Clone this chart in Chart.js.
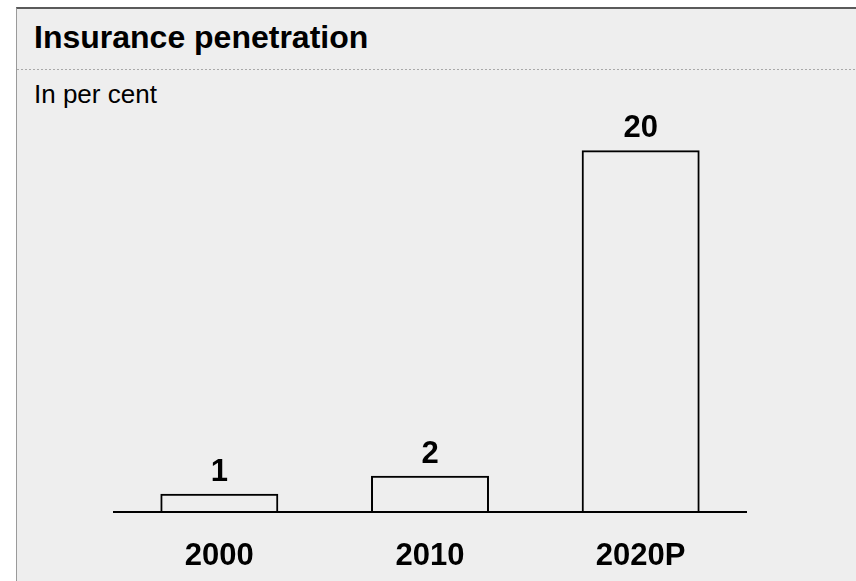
<!DOCTYPE html>
<html>
<head>
<meta charset="utf-8">
<script src="https://cdn.jsdelivr.net/npm/chart.js@4/dist/chart.umd.min.js"></script>
<style>
  html, body { margin: 0; padding: 0; background: #ffffff; }
  body { width: 856px; height: 581px; position: relative; overflow: hidden;
         font-family: "Liberation Sans", Arial, Helvetica, sans-serif; }
  .panel { position: absolute; left: 16px; top: 7px; right: -2px; bottom: -2px;
           background: #eeeeee; border-left: 1px solid #9a9a9a; border-top: 2px solid #5a5a5a; }
  .title { position: absolute; left: 17px; top: 12px; font-size: 32px; line-height: 32px;
           font-weight: bold; color: #000; white-space: nowrap; }
  .rule { position: absolute; left: 0; right: 0; top: 60px; height: 1px;
          background: repeating-linear-gradient(to right, #a8a8a8 0 2px, transparent 2px 4px); }
  .subtitle { position: absolute; left: 17px; top: 72px; font-size: 26px; line-height: 26px;
              color: #000; white-space: nowrap; }
  #chart { position: absolute; left: 0; top: 0; z-index: 2; }
</style>
</head>
<body>
<div class="panel">
  <div class="title">Insurance penetration</div>
  <div class="rule"></div>
  <div class="subtitle">In per cent</div>
</div>
<canvas id="chart" width="856" height="601"></canvas>
<script>
// Insurance penetration, in per cent
const categories = ['2000', '2010', '2020P'];
const penetration = [1, 2, 20];

const FONT = '"Liberation Sans", Arial, Helvetica, sans-serif';

// Writes each bar's value just above its top edge
const valueLabels = {
  id: 'valueLabels',
  afterDatasetsDraw(chart) {
    const ctx = chart.ctx;
    const meta = chart.getDatasetMeta(0);
    ctx.save();
    ctx.font = 'bold 31px ' + FONT;
    ctx.fillStyle = '#000000';
    ctx.textAlign = 'center';
    ctx.textBaseline = 'alphabetic';
    meta.data.forEach((bar, i) => {
      ctx.fillText(String(chart.data.datasets[0].data[i]), bar.x, bar.y - 13);
    });
    ctx.restore();
  }
};

new Chart(document.getElementById('chart'), {
  type: 'bar',
  data: {
    labels: categories,
    datasets: [{
      data: penetration,
      backgroundColor: 'rgba(0,0,0,0)',
      borderColor: '#000000',
      borderWidth: 2,
      borderSkipped: 'bottom',
      barPercentage: 0.56,
      categoryPercentage: 1.0
    }]
  },
  options: {
    responsive: false,
    animation: false,
    layout: { padding: { left: 114, right: 110, top: 114, bottom: 0 } },
    plugins: { legend: { display: false }, title: { display: false }, tooltip: { enabled: false } },
    scales: {
      x: {
        grid: { display: false, drawTicks: false },
        border: { display: true, color: '#000000', width: 2 },
        ticks: { color: '#000000', padding: 26, font: { family: FONT, size: 31, weight: 'bold' } }
      },
      y: { display: false, min: 0, max: 22 }
    }
  },
  plugins: [valueLabels]
});
</script>
</body>
</html>
